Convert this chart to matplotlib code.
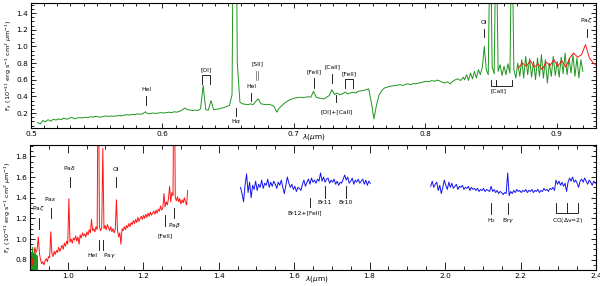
import numpy as np
import matplotlib.pyplot as plt
from matplotlib.ticker import MultipleLocator

# ---- optical spectrum (green), two samplings joined
opt_wave_a = np.round(np.arange(0.505, 0.8295, 0.002), 4)
opt_flux_a = [
    0.085, 0.07, 0.11, 0.095, 0.12, 0.10, 0.125, 0.115, 0.13, 0.12,
    0.14, 0.125, 0.135, 0.15, 0.13, 0.14, 0.145, 0.14, 0.15, 0.145,
    0.155, 0.15, 0.16, 0.155, 0.15, 0.16, 0.165, 0.16, 0.165, 0.16,
    0.165, 0.17, 0.165, 0.175, 0.18, 0.175, 0.185, 0.18, 0.19, 0.185,
    0.19, 0.215, 0.19, 0.195, 0.2, 0.195, 0.2, 0.205, 0.2, 0.205,
    0.21, 0.205, 0.215, 0.21, 0.22, 0.235, 0.26, 0.24, 0.235, 0.23,
    0.235, 0.23, 0.25, 0.53, 0.24, 0.235, 0.35, 0.24, 0.245, 0.25,
    0.26, 0.265, 0.28, 0.29, 0.42, 5.0, 0.8, 0.33, 0.31, 0.305,
    0.30, 0.31, 0.30, 0.34, 0.37, 0.31, 0.305, 0.30, 0.305, 0.295,
    0.28, 0.21, 0.26, 0.29, 0.32, 0.34, 0.36, 0.37, 0.38, 0.385,
    0.39, 0.385, 0.39, 0.395, 0.39, 0.46, 0.39, 0.38, 0.375, 0.37,
    0.39, 0.41, 0.48, 0.42, 0.44, 0.42, 0.43, 0.45, 0.43, 0.44,
    0.45, 0.44, 0.46, 0.465, 0.47, 0.48, 0.49, 0.33, 0.13, 0.30,
    0.42, 0.47, 0.50, 0.51, 0.52, 0.525, 0.53, 0.535, 0.54, 0.53,
    0.545, 0.55, 0.54, 0.555, 0.55, 0.56, 0.565, 0.575, 0.58, 0.575,
    0.59, 0.58, 0.595, 0.585, 0.57, 0.56, 0.575, 0.55, 0.58, 0.6,
    0.61, 0.59, 0.63,
]
opt_wave_b = np.round(np.arange(0.83, 0.92001, 0.0015), 4)
opt_flux_b = [
    0.60, 0.66, 0.59, 0.68, 0.61, 0.70, 0.62, 0.72, 0.66, 0.75,
    1.00, 0.72, 0.66, 2.5, 0.75, 0.67, 2.5, 0.70, 0.78, 0.65,
    0.76, 0.66, 0.79, 0.68, 2.5, 0.72, 0.62, 0.80, 0.64, 0.84,
    0.62, 0.88, 0.66, 0.85, 0.63, 0.82, 0.60, 0.86, 0.64, 0.90,
    0.62, 0.84, 0.56, 0.80, 0.64, 0.88, 0.65, 0.82, 0.63, 0.87,
    0.67, 0.92, 0.66, 0.85, 0.68, 0.90, 0.64, 0.86, 0.62, 0.84,
    0.70,
]

# ---- 0.87-1.32 micron spectrum (red)
zj_wave = np.round(np.arange(0.871, 1.3185, 0.003), 4)
zj_flux = [
    0.74, 0.80, 0.76, 0.83, 0.75, 0.79, 0.72, 0.81, 0.77, 0.84,
    0.76, 0.83, 0.75, 0.86, 0.92, 0.87, 0.90, 1.02, 0.86, 0.80,
    0.76, 0.78, 0.75, 0.79, 0.81, 0.78, 0.83, 0.82, 1.07, 0.86,
    0.83, 0.88, 0.85, 0.89, 0.87, 0.92, 0.88, 0.91, 0.94, 0.90,
    0.96, 0.93, 0.98, 0.95, 1.39, 0.97, 1.00, 0.96, 1.01, 0.99,
    1.03, 0.98, 1.02, 0.95, 1.04, 1.01, 1.06, 1.03, 1.05, 1.02,
    1.07, 1.04, 1.09, 1.06, 1.19, 1.08, 1.10, 1.07, 1.12, 1.09,
    3.0, 1.12, 1.08, 1.11, 1.88, 1.10, 1.13, 1.09, 1.14, 1.11,
    1.08, 1.12, 1.07, 1.10, 1.06, 1.09, 1.38, 1.08, 1.02, 1.06,
    0.95, 1.10, 1.08, 1.12, 1.09, 1.13, 1.11, 1.15, 1.12, 1.16,
    1.14, 1.18, 1.15, 1.19, 1.16, 1.21, 1.17, 1.20, 1.22, 1.19,
    1.23, 1.20, 1.24, 1.21, 1.25, 1.22, 1.26, 1.23, 1.25, 1.27,
    1.24, 1.28, 1.25, 1.29, 1.27, 1.32, 1.28, 1.30, 1.44, 1.31,
    1.36, 1.33, 1.39, 1.51, 1.36, 1.45, 1.42, 3.0, 1.40, 1.37,
    1.41, 1.36, 1.39, 1.34, 1.38, 1.35, 1.40, 1.36, 1.33, 1.47,
]

# ---- H and K band spectra (blue)
h_wave = np.round(np.arange(1.458, 1.8025, 0.004), 4)
h_flux = [
    1.50, 1.44, 1.36, 1.52, 1.63, 1.45, 1.55, 1.40, 1.52, 1.48,
    1.56, 1.47, 1.53, 1.50, 1.57, 1.49, 1.54, 1.52, 1.58, 1.50,
    1.55, 1.51, 1.56, 1.53, 1.49, 1.55, 1.52, 1.57, 1.50, 1.44,
    1.52, 1.60, 1.54, 1.50, 1.53, 1.48, 1.51, 1.46, 1.50, 1.49,
    1.47, 1.53, 1.57, 1.51, 1.55, 1.58, 1.53, 1.59, 1.55, 1.57,
    1.54, 1.58, 1.56, 1.64, 1.56, 1.60, 1.55, 1.58, 1.59, 1.54,
    1.57, 1.55, 1.58, 1.53, 1.56, 1.52, 1.55, 1.54, 1.58, 1.62,
    1.57, 1.60, 1.54, 1.56, 1.59, 1.53, 1.57, 1.55, 1.58, 1.54,
    1.56, 1.58, 1.53, 1.57, 1.52, 1.56, 1.54,
]
k_wave = np.round(np.arange(1.962, 2.3985, 0.004), 4)
k_flux = [
    1.51, 1.56, 1.50, 1.53, 1.55, 1.47, 1.52, 1.44, 1.50, 1.57,
    1.52, 1.48, 1.55, 1.50, 1.54, 1.49, 1.51, 1.53, 1.48, 1.51,
    1.50, 1.52, 1.48, 1.50, 1.49, 1.51, 1.47, 1.50, 1.48, 1.49,
    1.47, 1.49, 1.46, 1.48, 1.47, 1.49, 1.46, 1.48, 1.47, 1.46,
    1.51, 1.46, 1.48, 1.45, 1.47, 1.44, 1.46, 1.45, 1.43, 1.45,
    1.44, 1.64, 1.42, 1.46, 1.44, 1.47, 1.45, 1.48, 1.46, 1.47,
    1.45, 1.47, 1.46, 1.48, 1.45, 1.47, 1.46, 1.48, 1.45, 1.47,
    1.46, 1.48, 1.45, 1.47, 1.46, 1.49, 1.47, 1.48, 1.46, 1.49,
    1.48, 1.50, 1.47, 1.57, 1.53, 1.56, 1.52, 1.55, 1.51, 1.54,
    1.46, 1.55, 1.59, 1.56, 1.60, 1.55, 1.57, 1.54, 1.50, 1.56,
    1.58, 1.55, 1.59, 1.56, 1.53, 1.57, 1.55, 1.52, 1.56, 1.54,
]

# line identifications: (wavelength, label, tick bottom, tick top, label x, label y)
top_lines = [
    (0.5876, 'HeI', 0.30, 0.40, 0.5876, 0.45),
    (0.6678, 'HeI', 0.35, 0.44, 0.6678, 0.49),
    (0.7155, '[FeII]', 0.50, 0.62, 0.7155, 0.67),
    (0.7291, '[CaII]', 0.56, 0.67, 0.7291, 0.72),
    (0.8446, 'OI', 1.11, 1.21, 0.8446, 1.26),
    (0.9229, r'Pa$\zeta$', 1.11, 1.21, 0.9229, 1.26),
]
top_lines_below = [
    (0.6563, r'H$\alpha$', 0.17, 0.26, 0.6563, 0.11),
    (0.7323, '[OI]+[CaII]', 0.33, 0.42, 0.7323, 0.22),
]
bot_lines = [
    (0.9229, r'Pa$\zeta$', 1.10, 1.20, 0.9229, 1.25),
    (0.9546, r'Pa$\epsilon$', 1.20, 1.30, 0.9546, 1.35),
    (1.0049, r'Pa$\delta$', 1.50, 1.60, 1.0049, 1.65),
    (1.1287, 'OI', 1.50, 1.60, 1.1287, 1.65),
]
bot_lines_below = [
    (1.0830, 'HeI', 0.89, 0.99, 1.064, 0.84),
    (1.0938, r'Pa$\gamma$', 0.89, 0.99, 1.110, 0.84),
    (1.2570, '[FeII]', 1.13, 1.23, 1.257, 1.03),
    (1.2818, r'Pa$\beta$', 1.20, 1.30, 1.2818, 1.13),
    (1.6411, 'Br12+[FeII]', 1.31, 1.40, 1.628, 1.25),
    (1.681, 'Br11', 1.40, 1.51, 1.681, 1.35),
    (1.737, 'Br10', 1.40, 1.51, 1.737, 1.35),
    (2.1218, r'H$_2$', 1.24, 1.35, 2.1218, 1.18),
    (2.1661, r'Br$\gamma$', 1.24, 1.35, 2.1661, 1.18),
]

green = '#1e961e'
red = '#ff1414'
blue = '#1414f0'
fs_lab = 4.3

plt.rcParams['font.family'] = 'DejaVu Sans'
fig = plt.figure(figsize=(6, 2.86), dpi=100)
ax1 = fig.add_axes([0.0517, 0.5524, 0.9416, 0.4371])
ax2 = fig.add_axes([0.05, 0.0559, 0.9433, 0.4371])

opt_wave = np.concatenate([opt_wave_a, opt_wave_b])
opt_flux = np.concatenate([opt_flux_a, opt_flux_b])

for ax in (ax1, ax2):
    ax.plot(opt_wave, opt_flux, color=green, lw=0.7)
    ax.plot(zj_wave, zj_flux, color=red, lw=0.7)
    ax.plot(h_wave, h_flux, color=blue, lw=0.7)
    ax.plot(k_wave, k_flux, color=blue, lw=0.7)
    ax.tick_params(which='both', direction='in', top=True, right=True,
                   labelsize=5.3, pad=2, width=0.6)
    ax.tick_params(which='major', length=3.5)
    ax.tick_params(which='minor', length=2)
    for s in ax.spines.values():
        s.set_linewidth(0.8)
    ax.set_ylabel(r'F$_\lambda$ (10$^{-11}$ erg s$^{-1}$ cm$^{2}$ $\mu$m$^{-1}$)',
                  fontsize=4.6, labelpad=2)
    ax.set_xlabel(r'$\lambda$($\mu$m)', fontsize=5.3)

ax1.set_xlim(0.5, 0.93)
ax1.set_ylim(0.02, 1.52)
ax1.xaxis.set_major_locator(MultipleLocator(0.1))
ax1.xaxis.set_minor_locator(MultipleLocator(0.01))
ax1.yaxis.set_major_locator(MultipleLocator(0.2))
ax1.yaxis.set_minor_locator(MultipleLocator(0.05))
ax1.xaxis.set_label_coords(0.5, -0.035)

ax2.set_xlim(0.9, 2.4)
ax2.set_ylim(0.7, 1.91)
ax2.xaxis.set_major_locator(MultipleLocator(0.2))
ax2.xaxis.set_minor_locator(MultipleLocator(0.05))
ax2.yaxis.set_major_locator(MultipleLocator(0.2))
ax2.yaxis.set_minor_locator(MultipleLocator(0.05))
ax2.tick_params(axis='x', which='major', length=5.5)
ax2.tick_params(axis='x', which='minor', length=3)
ax2.xaxis.set_label_coords(0.507, -0.03)


def mark(ax, x, y0, y1, label, tx, ty, va):
    ax.plot([x, x], [y0, y1], color='k', lw=0.6)
    ax.text(tx, ty, label, fontsize=fs_lab, ha='center', va=va)


for x, lab, y0, y1, tx, ty in top_lines:
    mark(ax1, x, y0, y1, lab, tx, ty, 'bottom')
for x, lab, y0, y1, tx, ty in top_lines_below:
    mark(ax1, x, y0, y1, lab, tx, ty, 'center')
for x, lab, y0, y1, tx, ty in bot_lines:
    mark(ax2, x, y0, y1, lab, tx, ty, 'bottom')
for x, lab, y0, y1, tx, ty in bot_lines_below:
    mark(ax2, x, y0, y1, lab, tx, ty, 'center')

# brackets in the optical panel
ax1.plot([0.6300, 0.6300, 0.6363, 0.6363], [0.55, 0.66, 0.66, 0.55], color='k', lw=0.6)
ax1.text(0.6332, 0.69, '[OI]', fontsize=fs_lab, ha='center', va='bottom')
ax1.plot([0.7388, 0.7388, 0.7452, 0.7452], [0.50, 0.61, 0.61, 0.50], color='k', lw=0.6)
ax1.text(0.742, 0.64, '[FeII]', fontsize=fs_lab, ha='center', va='bottom')
ax1.plot([0.6716, 0.6716], [0.60, 0.70], color='0.35', lw=0.5)
ax1.plot([0.6731, 0.6731], [0.60, 0.70], color='0.35', lw=0.5)
ax1.text(0.6724, 0.76, '[SII]', fontsize=fs_lab, ha='center', va='bottom')
ax1.plot([0.8498, 0.8498, 0.8662, 0.8662], [0.60, 0.53, 0.53, 0.60], color='k', lw=0.6)
ax1.plot([0.8542, 0.8542], [0.53, 0.60], color='k', lw=0.6)
ax1.text(0.856, 0.47, '[CaII]', fontsize=fs_lab, ha='center', va='center')

# CO bandheads in the K band
ax2.plot([2.294, 2.294, 2.353, 2.353], [1.35, 1.25, 1.25, 1.35], color='k', lw=0.6)
ax2.plot([2.323, 2.323], [1.25, 1.35], color='k', lw=0.6)
ax2.text(2.325, 1.18, r'CO($\Delta$v=2)', fontsize=fs_lab, ha='center', va='center')

fig.savefig('out.png', dpi=100)
